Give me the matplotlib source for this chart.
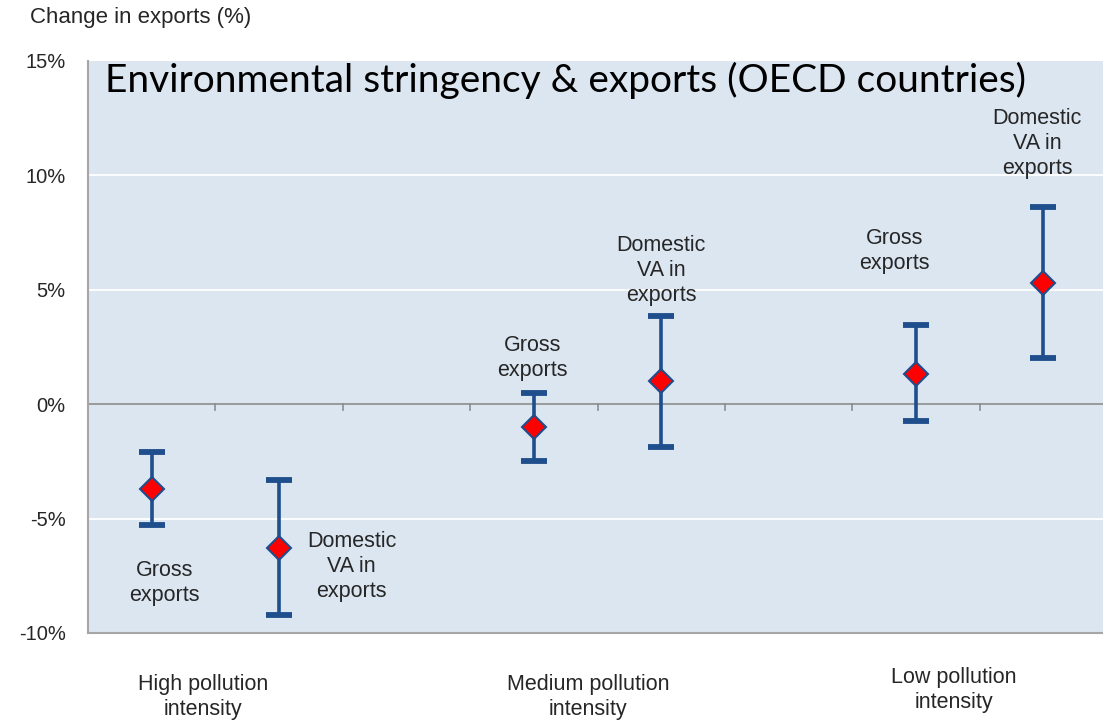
import matplotlib
matplotlib.use('Agg')
import matplotlib.pyplot as plt
import numpy as np

# data (% change in exports)
positions = [0.5, 1.5, 3.5, 4.5, 6.5, 7.5]
centers = [-3.7, -6.3, -1.0, 1.0, 1.3, 5.3]
upper = [-2.1, -3.3, 0.5, 3.85, 3.45, 8.6]
lower = [-5.3, -9.2, -2.5, -1.85, -0.75, 2.0]
point_labels = ['Gross\nexports', 'Domestic\nVA in\nexports'] * 3
label_xy = [(0.6, -7.8), (2.07, -7.1), (3.49, 2.0), (4.5, 5.85), (6.33, 6.7), (7.45, 11.4)]
groups = ['High pollution\nintensity', 'Medium pollution\nintensity', 'Low pollution\nintensity']
group_x = [203 / 1103, 588 / 1103, 954 / 1103]
yticks = [-10, -5, 0, 5, 10, 15]

bg = '#dce6f1'
navy = '#1f4e8c'

fig = plt.figure(figsize=(11.03, 7.21), dpi=100)
ax = fig.add_axes([88 / 1103, 1 - 633 / 721, 1019 / 1103, 572 / 721])
ax.set_facecolor(bg)
ax.set_xlim(0, 8)
ax.set_ylim(-10, 15)

for v in [-5, 5, 10]:
    ax.axhline(v, color='white', lw=1.3, zorder=1)
ax.axhline(0, color='#8c8c8c', lw=1.2, zorder=2)
for t in range(1, 8):
    ax.plot([t, t], [0, -0.25], color='#8c8c8c', lw=1.2, zorder=2)

c = np.array(centers)
err = [c - np.array(lower), np.array(upper) - c]
ax.errorbar(positions, centers, yerr=err, fmt='none', ecolor=navy,
            elinewidth=2.6, capsize=9.5, capthick=4.2, zorder=3)
ax.plot(positions, centers, 'D', ms=12, mfc='#ff0000', mec=navy, mew=1.5, zorder=4)

for txt, (x, y) in zip(point_labels, label_xy):
    ax.text(x, y, txt, ha='center', va='center', fontsize=15.5,
            family='Liberation Sans', color='#262626', linespacing=1.25)

ax.set_xticks([])
ax.set_yticks(yticks)
ax.set_yticklabels([f'{v}%' for v in yticks], fontsize=14.5, family='Liberation Sans', color='#262626')
ax.tick_params(axis='y', length=0, pad=16)
for s in ['top', 'right']:
    ax.spines[s].set_visible(False)
ax.spines['left'].set_color('#a6a6a6')
ax.spines['bottom'].set_color('#a6a6a6')
ax.spines['left'].set_linewidth(1.5)
ax.spines['bottom'].set_linewidth(1.5)

fig.text(105 / 1103, 1 - 80 / 721, 'Environmental stringency & exports (OECD countries)',
         fontsize=28, family='Lato', va='center', ha='left', color='black')
fig.text(30 / 1103, 1 - 17 / 721, 'Change in exports (%)', fontsize=16,
         family='Liberation Sans', va='center', ha='left', color='#262626')

for g, gx in zip(groups, group_x):
    gy = 1 - 690 / 721 if g.startswith('Low') else 1 - 697 / 721
    fig.text(gx, gy, g, ha='center', va='center', fontsize=15.5,
             family='Liberation Sans', color='#262626', linespacing=1.2)

fig.savefig('out.png', dpi=100)
